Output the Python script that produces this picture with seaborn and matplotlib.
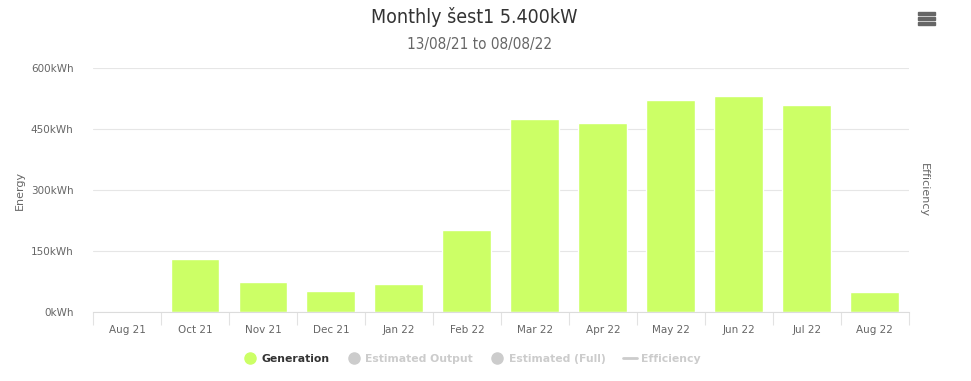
import matplotlib
matplotlib.use("Agg")
import matplotlib.pyplot as plt
from matplotlib.lines import Line2D
from matplotlib.patches import Rectangle
import seaborn as sns

months = ["Aug 21", "Oct 21", "Nov 21", "Dec 21", "Jan 22", "Feb 22",
          "Mar 22", "Apr 22", "May 22", "Jun 22", "Jul 22", "Aug 22"]
generation = [0, 130, 74, 52, 69, 202, 475, 465, 521, 531, 509, 49]
y_ticks = [0, 150, 300, 450, 600]
y_labels = ["0kWh", "150kWh", "300kWh", "450kWh", "600kWh"]
legend_names = ["Generation", "Estimated Output", "Estimated (Full)", "Efficiency"]

GREEN = "#ccff66"
GREY = "#cccccc"

sns.set_style("white")
plt.rcParams["font.family"] = ["DejaVu Sans"]

fig = plt.figure(figsize=(9.71, 3.81), dpi=100)
ax = fig.add_axes([0.0958, 0.181, 0.8402, 0.6405])

sns.barplot(x=months, y=generation, color=GREEN, saturation=1, width=0.72, ax=ax)

ax.set_xlim(-0.5, len(months) - 0.5)
ax.set_ylim(0, 600)
ax.set_yticks(y_ticks)
ax.set_yticklabels(y_labels)
ax.grid(axis="y", color="#e6e6e6", linewidth=0.8)
ax.set_axisbelow(True)
for s in ["top", "right", "left"]:
    ax.spines[s].set_visible(False)
ax.spines["bottom"].set_color("#dcdcdc")
ax.spines["bottom"].set_linewidth(0.8)

ax.tick_params(axis="y", length=0, labelsize=7.5, labelcolor="#666666", pad=14)
ax.tick_params(axis="x", which="major", length=0, labelsize=7.5,
               labelcolor="#666666", pad=9)
ax.set_xticks([i - 0.5 for i in range(len(months) + 1)], minor=True)
ax.tick_params(axis="x", which="minor", bottom=True, length=9,
               color="#e2e2e2", width=0.8)
ax.set_xlabel("")
ax.set_ylabel("Energy", fontsize=8, color="#666666", labelpad=4)

fig.text(0.951, 0.5, "Efficiency", rotation=270, ha="center", va="center",
         fontsize=8, color="#666666")

fig.text(0.488, 0.955, "Monthly šest1 5.400kW", ha="center", va="center",
         fontsize=14, color="#333333", family="DejaVu Sans", stretch="condensed")
fig.text(0.494, 0.882, "13/08/21 to 08/08/22", ha="center", va="center",
         fontsize=11, color="#666666", family="DejaVu Sans", stretch="condensed")

# menu icon
for dy in [13, 18, 23]:
    fig.patches.append(Rectangle((918 / 971, 1 - (dy + 1.5) / 381), 17 / 971, 3 / 381,
                                 transform=fig.transFigure, color="#666666"))

handles = [
    Line2D([], [], marker="o", linestyle="", markersize=8, color=GREEN),
    Line2D([], [], marker="o", linestyle="", markersize=8, color=GREY),
    Line2D([], [], marker="o", linestyle="", markersize=8, color=GREY),
    Line2D([], [], linestyle="-", linewidth=2, color=GREY),
]
leg = fig.legend(handles, legend_names, loc="center", bbox_to_anchor=(0.486, 0.058),
                 ncol=4, frameon=False, handlelength=1.3, handletextpad=0.4,
                 columnspacing=1.6, prop={"size": 7.8, "weight": "bold"})
for i, t in enumerate(leg.get_texts()):
    t.set_color("#333333" if i == 0 else GREY)

fig.savefig("out.png", dpi=100)
